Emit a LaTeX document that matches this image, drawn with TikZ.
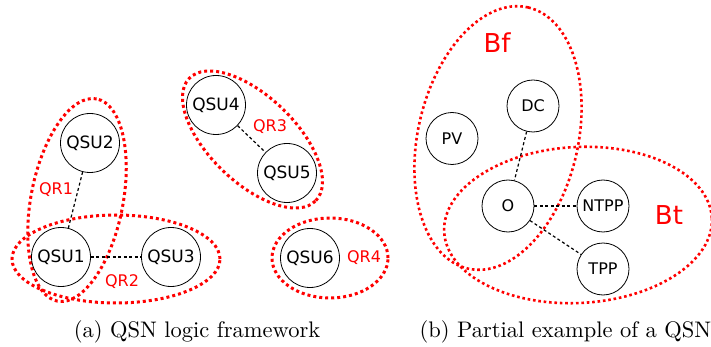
\documentclass[tikz,border=0pt]{standalone}
\usepackage{fontspec}
\newfontfamily\dv{DejaVu Sans}
\newfontfamily\capfont{lmroman10-regular.otf}
\definecolor{qred}{RGB}{255,0,0}
\tikzset{
  unit/.style={circle,draw,line width=0.8pt,minimum size=59pt,inner sep=0pt,font=\dv\fontsize{17}{19}\selectfont},
  rel/.style={circle,draw,line width=0.8pt,minimum size=52pt,inner sep=0pt,font=\dv\fontsize{16}{18}\selectfont},
  link/.style={line width=1.2pt,dash pattern=on 3pt off 2.5pt},
  region/.style={draw=qred,line width=3pt,dash pattern=on 3pt off 3pt},
  regionb/.style={draw=qred,line width=2.6pt,dash pattern=on 2.6pt off 2.8pt},
  rlabel/.style={text=qred,font=\dv\fontsize{16}{18}\selectfont},
  blabel/.style={text=qred,font=\dv\fontsize{26}{30}\selectfont},
  captext/.style={anchor=base,font=\capfont\fontsize{22.5}{26}\selectfont}
}
\begin{document}
\begin{tikzpicture}[x=1pt,y=-1pt]
\useasboundingbox (0,0) rectangle (711,347);
% left panel regions
\draw[region] (77,200) ellipse [x radius=103pt,y radius=46pt,rotate=79];
\draw[region] (116,259) ellipse [x radius=104pt,y radius=44pt];
\draw[region] (252.5,139.5) ellipse [x radius=88pt,y radius=43pt,rotate=-44];
\draw[region] (330,258) ellipse [x radius=58pt,y radius=40pt];
% units
\node[unit] (q2) at (90,143) {QSU2};
\node[unit] (q1) at (61,257) {QSU1};
\node[unit] (q3) at (171,257) {QSU3};
\node[unit] (q4) at (216,105) {QSU4};
\node[unit] (q5) at (287,173) {QSU5};
\node[unit] (q6) at (310,258) {QSU6};
\draw[link] (q2) -- (q1);
\draw[link] (q1) -- (q3);
\draw[link] (q4) -- (q5);
\node[rlabel] (r1) at (56,190) {QR1};
\node[rlabel] (r2) at (122,282) {QR2};
\node[rlabel] (r3) at (270,127) {QR3};
\node[rlabel] (r4) at (364,258) {QR4};
% right panel
\draw[regionb] (498,138) ellipse [x radius=134pt,y radius=80pt,rotate=77];
\draw[regionb] (578,225) ellipse [x radius=134pt,y radius=78pt,rotate=3];
\node[rel] (dc) at (533,106) {DC};
\node[rel] (pv) at (452,138.5) {PV};
\node[rel] (o) at (508,206) {O};
\node[rel] (ntpp) at (603,206) {NTPP};
\node[rel] (tpp) at (603,269) {TPP};
\draw[link] (dc) -- (o);
\draw[link] (o) -- (ntpp);
\draw[link] (o) -- (tpp);
\node[blabel] (bf) at (497,43) {Bf};
\node[blabel] (bt) at (669,215) {Bt};
% captions
\node[captext] (ca) at (197,337) {(a) QSN logic framework};
\node[captext] (cb) at (565.5,337) {(b) Partial example of a QSN};
\end{tikzpicture}
\end{document}
